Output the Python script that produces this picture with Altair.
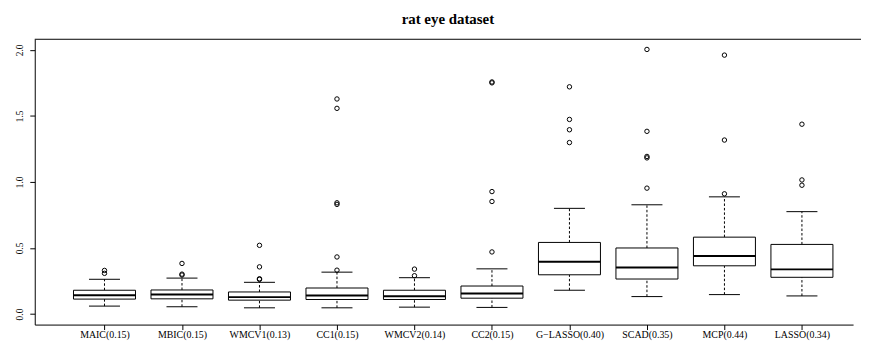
import json
import altair as alt
import pandas as pd

# ---- data ----
methods = ["MAIC(0.15)", "MBIC(0.15)", "WMCV1(0.13)", "CC1(0.15)", "WMCV2(0.14)",
           "CC2(0.15)", "G\u2212LASSO(0.40)", "SCAD(0.35)", "MCP(0.44)", "LASSO(0.34)"]
lower_whisker = [0.060, 0.055, 0.047, 0.047, 0.052, 0.050, 0.180, 0.132, 0.147, 0.137]
q1 = [0.113, 0.115, 0.105, 0.110, 0.110, 0.120, 0.297, 0.265, 0.365, 0.278]
median = [0.143, 0.147, 0.128, 0.140, 0.135, 0.155, 0.395, 0.352, 0.440, 0.338]
q3 = [0.180, 0.182, 0.167, 0.197, 0.180, 0.212, 0.542, 0.500, 0.582, 0.527]
upper_whisker = [0.263, 0.272, 0.240, 0.317, 0.275, 0.342, 0.800, 0.827, 0.887, 0.775]
outliers = [
    [0.308, 0.330],
    [0.295, 0.302, 0.383],
    [0.262, 0.267, 0.357, 0.520],
    [0.332, 0.432, 0.830, 0.842, 1.557, 1.628],
    [0.290, 0.340],
    [0.470, 0.852, 0.927, 1.750, 1.757],
    [1.298, 1.395, 1.473, 1.720],
    [0.953, 1.182, 1.193, 1.383, 2.003],
    [0.910, 1.317, 1.960],
    [0.975, 1.015, 1.437],
]
y_ticks = [0.0, 0.5, 1.0, 1.5, 2.0]
title_text = "rat eye dataset"

# ---- tables ----
box_half = 0.4
cap_half = 0.2
df = pd.DataFrame({
    "method": methods,
    "pos": list(range(1, len(methods) + 1)),
    "lw": lower_whisker, "q1": q1, "med": median, "q3": q3, "uw": upper_whisker,
})
df["left"] = df["pos"] - box_half
df["right"] = df["pos"] + box_half
df["capl"] = df["pos"] - cap_half
df["capr"] = df["pos"] + cap_half

out_rows = []
for i, vals in enumerate(outliers):
    for v in vals:
        out_rows.append({"pos": i + 1, "value": v})
out_df = pd.DataFrame(out_rows)

# ---- layout ----
W, H = 826, 288
px_per_unit = 78.22
x_dom = [0.1, 0.1 + W / px_per_unit]
y_dom = [-0.08, 2.08]
FONT = "Liberation Serif"

label_expr = json.dumps(methods) + "[datum.value - 1]"
xscale = alt.Scale(domain=x_dom, nice=False, zero=False)
yscale = alt.Scale(domain=y_dom, nice=False, zero=False)

xaxis = alt.Axis(values=list(range(1, len(methods) + 1)), labelExpr=label_expr,
                 title=None, grid=False, tickSize=5, labelPadding=8,
                 labelBaseline="alphabetic", labelFont=FONT, labelFontSize=10,
                 labelColor="black", domainColor="black", tickColor="black",
                 labelOverlap=False, labelFlush=False)
yaxis = alt.Axis(values=y_ticks, format=".1f", title=None, grid=False, tickSize=5,
                 labelPadding=7, labelAngle=270, labelAlign="center",
                 labelBaseline="alphabetic", labelFont=FONT, labelFontSize=9.5,
                 labelColor="black", domainColor="black", tickColor="black")

base = alt.Chart(df)

upper_w = base.mark_rule(color="black", strokeWidth=1, strokeDash=[2.5, 2]).encode(
    x=alt.X("pos:Q", scale=xscale, axis=xaxis),
    y=alt.Y("q3:Q", scale=yscale, axis=yaxis),
    y2="uw:Q",
)
lower_w = base.mark_rule(color="black", strokeWidth=1, strokeDash=[2.5, 2]).encode(
    x=alt.X("pos:Q", scale=xscale), y=alt.Y("lw:Q", scale=yscale), y2="q1:Q",
)
cap_u = base.mark_rule(color="black", strokeWidth=1).encode(
    x=alt.X("capl:Q", scale=xscale), x2="capr:Q", y=alt.Y("uw:Q", scale=yscale),
)
cap_l = base.mark_rule(color="black", strokeWidth=1).encode(
    x=alt.X("capl:Q", scale=xscale), x2="capr:Q", y=alt.Y("lw:Q", scale=yscale),
)
boxes = base.mark_rect(fill="white", stroke="black", strokeWidth=1).encode(
    x=alt.X("left:Q", scale=xscale), x2="right:Q",
    y=alt.Y("q1:Q", scale=yscale), y2="q3:Q",
)
medians = base.mark_rule(color="black", strokeWidth=2).encode(
    x=alt.X("left:Q", scale=xscale), x2="right:Q", y=alt.Y("med:Q", scale=yscale),
)
points = alt.Chart(out_df).mark_point(shape="circle", filled=False, color="black",
                                      size=20, strokeWidth=1, opacity=1).encode(
    x=alt.X("pos:Q", scale=xscale), y=alt.Y("value:Q", scale=yscale),
)

dummy = pd.DataFrame({"t": [title_text]})
top_border = alt.Chart(dummy).mark_rule(color="black", strokeWidth=1).encode(
    x=alt.value(0), x2=alt.value(W + 20), y=alt.value(0),
)
title = alt.Chart(dummy).mark_text(font=FONT, fontSize=15, fontWeight="bold",
                                   align="center", baseline="alphabetic",
                                   color="black").encode(
    x=alt.value(417), y=alt.value(-15.5), text="t:N",
)

chart = alt.layer(upper_w, lower_w, cap_u, cap_l, boxes, medians, points,
                  top_border, title).properties(
    width=W, height=H,
    autosize=alt.AutoSizeParams(type="none"),
    padding={"left": 27, "top": 30, "right": 8, "bottom": 15},
    background="white",
).configure_view(stroke=None)

chart.save("out.html", embed_options={"renderer": "svg", "actions": False})
